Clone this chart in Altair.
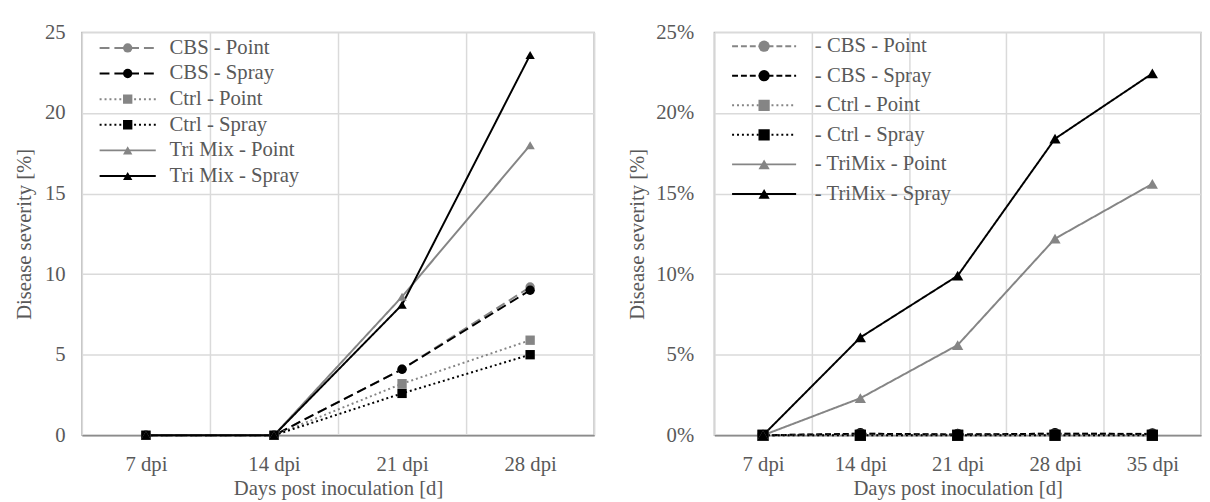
import altair as alt
import pandas as pd

# ---------------- data ----------------
days_left = ["7 dpi", "14 dpi", "21 dpi", "28 dpi"]
series_left = ["CBS - Point", "CBS - Spray", "Ctrl - Point", "Ctrl - Spray",
               "Tri Mix - Point", "Tri Mix - Spray"]
cbs_point_left = [0, 0, 4.1, 9.2]
cbs_spray_left = [0, 0, 4.1, 9.0]
ctrl_point_left = [0, 0, 3.2, 5.9]
ctrl_spray_left = [0, 0, 2.6, 5.0]
tri_point_left = [0, 0, 8.6, 18.0]
tri_spray_left = [0, 0, 8.1, 23.6]

days_right = ["7 dpi", "14 dpi", "21 dpi", "28 dpi", "35 dpi"]
series_right = ["- CBS - Point", "- CBS - Spray", "- Ctrl - Point", "- Ctrl - Spray",
                "- TriMix - Point", "- TriMix - Spray"]
cbs_point_right = [0, 0.001, 0.0005, 0.001, 0.001]
cbs_spray_right = [0, 0.001, 0.0005, 0.001, 0.0008]
ctrl_point_right = [0, 0, 0, 0, 0]
ctrl_spray_right = [0, 0, 0, 0, 0]
tri_point_right = [0, 0.023, 0.056, 0.122, 0.156]
tri_spray_right = [0, 0.0607, 0.099, 0.184, 0.2245]

y_ticks_left = [0, 5, 10, 15, 20, 25]
y_ticks_right = [0, 0.05, 0.10, 0.15, 0.20, 0.25]

# ---------------- styles ----------------
FONT = "Liberation Serif"
FS = 21
TXT = "#595959"
GREY = "#858585"
colors = [GREY, "#000000", GREY, "#000000", GREY, "#000000"]
shapes = ["circle", "circle", "square", "square", "triangle-up", "triangle-up"]
dashes_left = [[10, 5], [10, 5], [2, 3], [2, 3], [1, 0], [1, 0]]
dashes_right = [[6, 3], [6, 3], [2, 3], [2, 3], [1, 0], [1, 0]]


def long_df(days, series, arrays):
    rows = []
    for s, vals in zip(series, arrays):
        for d, v in zip(days, vals):
            rows.append({"day": d, "series": s, "series_pt": s, "value": v})
    return pd.DataFrame(rows)


def panel(days, series, arrays, yticks, yfmt, dashes, width, height,
          line_len, label_off, row_h, leg_x, leg_y, pt_size, thick_name,
          y_label_pad, y_title_pad):
    df = long_df(days, series, arrays)
    xenc = alt.X("day:O", sort=days,
                 scale=alt.Scale(type="band", paddingInner=0, paddingOuter=0),
                 axis=alt.Axis(title="Days post inoculation [d]", labelAngle=0,
                               ticks=False, grid=True, tickBand="extent",
                               labelPadding=19, titlePadding=3,
                               domainColor="#8c8c8c", domainWidth=1.5))
    if yfmt:
        yaxis = alt.Axis(title="Disease severity [%]", values=yticks, ticks=False,
                         domain=False, grid=True, labelPadding=y_label_pad,
                         titlePadding=y_title_pad, format=yfmt)
    else:
        yaxis = alt.Axis(title="Disease severity [%]", values=yticks, ticks=False,
                         domain=False, grid=True, labelPadding=y_label_pad,
                         titlePadding=y_title_pad)
    yenc = alt.Y("value:Q", scale=alt.Scale(domain=[yticks[0], yticks[-1]], nice=False),
                 axis=yaxis)

    sym_size = line_len * line_len
    leg_lines = alt.Legend(
        title=None, orient="none", legendX=leg_x, legendY=leg_y,
        symbolType="stroke", symbolSize=sym_size, symbolStrokeWidth=2,
        labelFont=FONT, labelFontSize=FS, labelColor=TXT, labelOffset=label_off,
        clipHeight=row_h - 2, rowPadding=2, padding=0,
    )
    big = line_len + 2
    small = FS
    leg_pts = alt.Legend(
        title=None, orient="none", legendX=leg_x, legendY=leg_y,
        symbolSize=pt_size, symbolStrokeWidth=0,
        symbolOffset=(big - small) / 2.0,
        labelFont=FONT, labelFontSize=FS, labelExpr="''",
        clipHeight=row_h - 2, rowPadding=2, padding=0,
    )

    lines = alt.Chart(df).mark_line(strokeWidth=2).encode(
        x=xenc, y=yenc,
        stroke=alt.Stroke("series:N", scale=alt.Scale(range=colors), legend=leg_lines),
        strokeDash=alt.StrokeDash("series:N", scale=alt.Scale(range=dashes), legend=leg_lines),
        strokeWidth=alt.condition(alt.datum.series == thick_name, alt.value(3), alt.value(2)),
    )
    pts = alt.Chart(df).mark_point(filled=True, size=pt_size, opacity=1, strokeWidth=0).encode(
        x=xenc, y=yenc,
        fill=alt.Fill("series_pt:N", scale=alt.Scale(range=colors), legend=leg_pts),
        shape=alt.Shape("series_pt:N", scale=alt.Scale(range=shapes), legend=leg_pts),
    )
    return alt.layer(lines, pts).properties(width=width, height=height)


left = panel(days_left, series_left,
             [cbs_point_left, cbs_spray_left, ctrl_point_left, ctrl_spray_left,
              tri_point_left, tri_spray_left],
             y_ticks_left, None, dashes_left, 520, 409,
             57, 13, 25.6, 17, 4, 90, "Tri Mix - Spray", 17, 10)

right = panel(days_right, series_right,
              [cbs_point_right, cbs_spray_right, ctrl_point_right, ctrl_spray_right,
               tri_point_right, tri_spray_right],
              y_ticks_right, ".0%", dashes_right, 494, 409,
              65, 18, 30, 17, 0, 130, "- TriMix - Spray", 21, 8)

chart = alt.hconcat(left, right, spacing=31).resolve_scale(
    stroke="independent", strokeDash="independent",
    fill="independent", shape="independent",
).properties(
    padding={"left": 5, "top": 9, "right": 0, "bottom": 0}
).configure(font=FONT).configure_view(
    stroke="#b3b3b3", strokeWidth=1.5
).configure_axis(
    labelFont=FONT, labelFontSize=FS, labelColor=TXT,
    titleFont=FONT, titleFontSize=FS, titleColor=TXT, titleFontWeight="normal",
    gridColor="#dadada", gridWidth=1.5,
)

chart.save("out.html", embed_options={"renderer": "svg", "actions": False})
